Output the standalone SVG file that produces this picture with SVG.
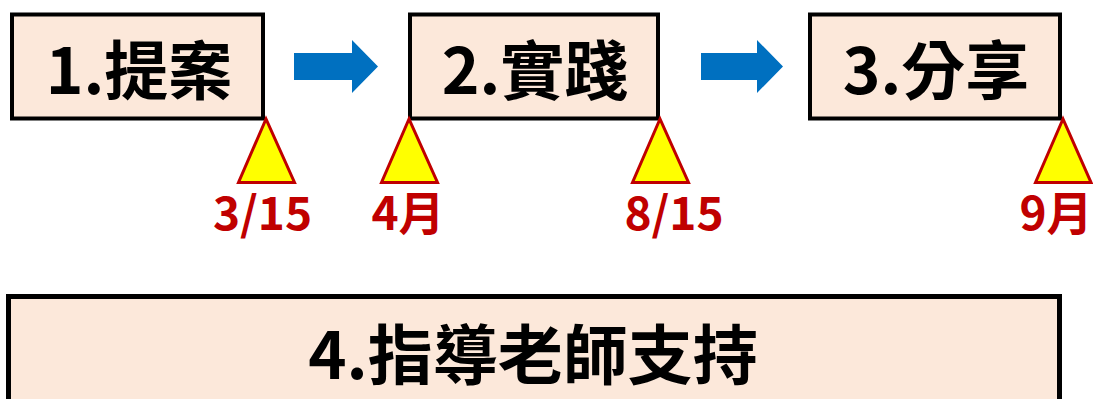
<svg xmlns="http://www.w3.org/2000/svg" width="1093" height="399" viewBox="0 0 1093 399">
  <style>
    .box { fill: #FCE8DA; stroke: #000000; stroke-width: 4; }
    .box4 { fill: #FCE8DA; stroke: #000000; stroke-width: 5; }
    .title { font-family: "Noto Sans CJK TC", "Noto Sans CJK SC", "Liberation Sans", sans-serif; font-weight: bold; fill: #000000; text-anchor: middle; }
    .tri { fill: #FFFF00; stroke: #C00000; stroke-width: 3; stroke-linejoin: miter; }
    .date { font-family: "Noto Sans CJK TC", "Noto Sans CJK SC", "Liberation Sans", sans-serif; font-weight: bold; font-size: 46px; fill: #C00000; text-anchor: middle; }
    .arrow { fill: #0070C0; }
  </style>
  <rect width="1093" height="399" fill="#FFFFFF"/>
  <g id="connectors">
    <polygon class="arrow" points="294,53 352,53 352,40 378,66.5 352,93 352,80 294,80"/>
    <polygon class="arrow" points="701,53 757,53 757,40 783,66.5 757,93 757,80 701,80"/>
  </g>
  <g id="node1">
    <rect class="box" x="12" y="14.5" width="251" height="104"/>
    <text class="title" x="139" y="94" font-size="64">1.提案</text>
  </g>
  <g id="node2">
    <rect class="box" x="410" y="14.5" width="248" height="104"/>
    <text class="title" x="535" y="94" font-size="64">2.實踐</text>
  </g>
  <g id="node3">
    <rect class="box" x="810" y="14.5" width="250" height="104"/>
    <text class="title" x="936" y="94" font-size="64">3.分享</text>
  </g>
  <g id="node4">
    <rect class="box4" x="8.5" y="296.5" width="1051" height="110"/>
    <text class="title" x="533" y="379" font-size="65">4.指導老師支持</text>
  </g>
  <g id="milestone1">
    <polygon class="tri" points="266,119 238.5,182.5 294.5,182.5"/>
    <text class="date" x="262.5" y="230">3/15</text>
  </g>
  <g id="milestone2">
    <polygon class="tri" points="409,119 381.5,182.5 437.5,182.5"/>
    <text class="date" x="408" y="230">4月</text>
  </g>
  <g id="milestone3">
    <polygon class="tri" points="660,119 632.5,182.5 688.5,182.5"/>
    <text class="date" x="674" y="230">8/15</text>
  </g>
  <g id="milestone4">
    <polygon class="tri" points="1063,119 1035.5,182.5 1091,182.5"/>
    <text class="date" x="1056" y="230">9月</text>
  </g>
</svg>
